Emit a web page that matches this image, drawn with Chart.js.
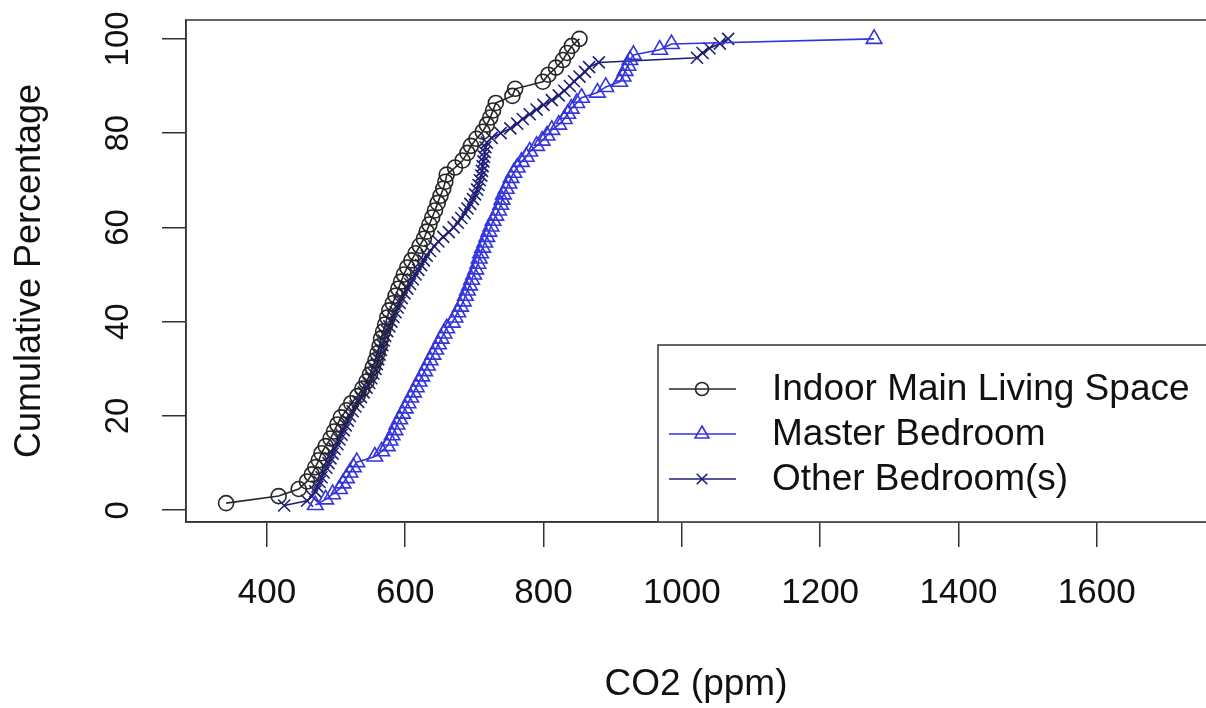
<!DOCTYPE html>
<html lang="en">
<head>
<meta charset="utf-8">
<script src="https://cdn.jsdelivr.net/npm/chart.js@4.4.1/dist/chart.umd.min.js"></script>
<style>
  html, body { margin: 0; padding: 0; background: #fff; overflow: hidden; }
  #cdf { display: block; }
</style>
</head>
<body>
<canvas id="cdf" width="1206" height="708"></canvas>

<script>
// axis ticks
const xTicks = [400, 600, 800, 1000, 1200, 1400, 1600];
const yTicks = [0, 20, 40, 60, 80, 100];

const seriesNames = ['Indoor Main Living Space', 'Master Bedroom', 'Other Bedroom(s)'];

// Indoor Main Living Space: CO2 (ppm) and cumulative %
const indoorPpm = [341, 417, 446, 458, 465, 470, 475, 479, 485, 492, 497, 502, 507, 515, 522, 531,
  538, 544, 549, 553, 557, 560, 563, 565, 568, 571, 574, 577, 582, 586, 590, 594, 598, 603, 609,
  615, 621, 627, 631, 635, 639, 643, 647, 651, 655, 658, 660, 672, 683, 690, 695, 703, 712, 718,
  723, 727, 731, 755, 759, 799, 807, 818, 828, 834, 841, 852];
const indoorPct = [1.5, 3.0, 4.5, 6.1, 7.6, 9.1, 10.6, 12.1, 13.6, 15.2, 16.7, 18.2, 19.7, 21.2,
  22.7, 24.2, 25.8, 27.3, 28.8, 30.3, 31.8, 33.3, 34.8, 36.4, 37.9, 39.4, 40.9, 42.4, 43.9, 45.5,
  47.0, 48.5, 50.0, 51.5, 53.0, 54.5, 56.1, 57.6, 59.1, 60.6, 62.1, 63.6, 65.2, 66.7, 68.2, 69.7,
  71.2, 72.7, 74.2, 75.8, 77.3, 78.8, 80.3, 81.8, 83.3, 84.8, 86.4, 87.9, 89.4, 90.9, 92.4, 93.9,
  95.5, 97.0, 98.5, 100.0];

// Master Bedroom
const masterPpm = [470, 485, 495, 505, 510, 515, 520, 525, 530, 556, 566, 574, 578, 581, 585, 588,
  592, 596, 600, 604, 608, 612, 616, 620, 624, 628, 632, 636, 640, 644, 648, 652, 656, 660, 668,
  672, 676, 680, 684, 687, 690, 693, 696, 699, 702, 705, 707, 709, 712, 715, 718, 721, 724, 727,
  731, 735, 738, 740, 742, 746, 750, 753, 757, 762, 768, 775, 780, 790, 798, 805, 812, 822, 830,
  835, 840, 848, 855, 878, 890, 910, 915, 918, 922, 925, 930, 968, 985, 1278];
const masterPct = [1.1, 2.3, 3.4, 4.5, 5.7, 6.8, 8.0, 9.1, 10.2, 11.4, 12.5, 13.6, 14.8, 15.9,
  17.0, 18.2, 19.3, 20.5, 21.6, 22.7, 23.9, 25.0, 26.1, 27.3, 28.4, 29.5, 30.7, 31.8, 33.0, 34.1,
  35.2, 36.4, 37.5, 38.6, 39.8, 40.9, 42.0, 43.2, 44.3, 45.5, 46.6, 47.7, 48.9, 50.0, 51.1, 52.3,
  53.4, 54.5, 55.7, 56.8, 58.0, 59.1, 60.2, 61.4, 62.5, 63.6, 64.8, 65.9, 67.0, 68.2, 69.3, 70.5,
  71.6, 72.7, 73.9, 75.0, 76.1, 77.3, 78.4, 79.5, 80.7, 81.8, 83.0, 84.1, 85.2, 86.4, 87.5, 88.6,
  89.8, 90.9, 92.0, 93.2, 94.3, 95.5, 96.6, 97.7, 98.9, 100.0];

// Other Bedroom(s)
const otherPpm = [425, 458, 465, 470, 473, 476, 479, 482, 486, 489, 492, 495, 498, 502, 505, 508,
  511, 514, 517, 520, 524, 528, 532, 536, 540, 544, 548, 551, 554, 557, 559, 561, 563, 565, 567,
  569, 571, 574, 577, 580, 583, 586, 589, 592, 595, 599, 603, 607, 611, 615, 619, 623, 627, 631,
  636, 642, 648, 655, 663, 670, 676, 681, 686, 690, 694, 698, 701, 704, 706, 708, 710, 711, 712,
  713, 714, 715, 716, 718, 725, 738, 752, 762, 770, 780, 790, 800, 812, 822, 830, 838, 844, 852,
  860, 866, 880, 1022, 1030, 1040, 1055, 1067];
const otherPct = [1, 2, 3, 4, 5, 6, 7, 8, 9, 10, 11, 12, 13, 14, 15, 16, 17, 18, 19, 20, 21, 22,
  23, 24, 25, 26, 27, 28, 29, 30, 31, 32, 33, 34, 35, 36, 37, 38, 39, 40, 41, 42, 43, 44, 45, 46,
  47, 48, 49, 50, 51, 52, 53, 54, 55, 56, 57, 58, 59, 60, 61, 62, 63, 64, 65, 66, 67, 68, 69, 70,
  71, 72, 73, 74, 75, 76, 77, 78, 79, 80, 81, 82, 83, 84, 85, 86, 87, 88, 89, 90, 91, 92, 93, 94,
  95, 96, 97, 98, 99, 100];

const FONT = '"Liberation Sans", Arial, Helvetica, sans-serif';
const INK = '#333';

function pairs(xs, ys) {
    return xs.map((v, i) => ({ x: v, y: ys[i] }));
}

// box round the plot, y labels turned like R draws them
const rFrame = {
    id: 'rFrame',
    afterDraw(chart) {
        const { ctx, chartArea: a, scales } = chart;
        ctx.save();
        ctx.strokeStyle = INK;
        ctx.lineWidth = 1.5;
        ctx.beginPath();
        ctx.moveTo(a.right + 4, a.top);
        ctx.lineTo(a.left, a.top);
        ctx.lineTo(a.left, a.bottom);
        ctx.lineTo(a.right + 4, a.bottom);
        ctx.stroke();

        ctx.fillStyle = '#111';
        ctx.font = '33px ' + FONT;
        ctx.textAlign = 'center';
        ctx.textBaseline = 'middle';
        scales.y.ticks.forEach((t) => {
            const py = scales.y.getPixelForValue(t.value);
            ctx.save();
            ctx.translate(119, py);
            ctx.rotate(-Math.PI / 2);
            ctx.fillText(String(t.value), 0, 0);
            ctx.restore();
        });
        ctx.restore();
    }
};

// legend box in the bottom right corner
const rLegend = {
    id: 'rLegend',
    afterDatasetsDraw(chart) {
        const { ctx, chartArea: a } = chart;
        const left = 658, top = 345;
        ctx.save();
        ctx.fillStyle = '#fff';
        ctx.fillRect(left, top, a.right - left + 6, a.bottom - top);
        ctx.strokeStyle = INK;
        ctx.lineWidth = 1.5;
        ctx.beginPath();
        ctx.moveTo(left, a.bottom);
        ctx.lineTo(left, top);
        ctx.lineTo(a.right + 6, top);
        ctx.stroke();

        const rows = [389, 434, 479];
        chart.data.datasets.forEach((ds, i) => {
            const y = rows[i];
            ctx.strokeStyle = ds.borderColor;
            ctx.lineWidth = 1.5;
            ctx.beginPath();
            ctx.moveTo(669, y);
            ctx.lineTo(736, y);
            ctx.stroke();
            ctx.strokeStyle = ds.pointBorderColor;
            ctx.fillStyle = 'rgba(0,0,0,0)';
            ctx.lineWidth = ds.pointBorderWidth;
            Chart.helpers.drawPoint(ctx, {
                pointStyle: ds.pointStyle, radius: ds.pointRadius - 1,
                rotation: 0, borderWidth: ds.pointBorderWidth
            }, 702, y);
            ctx.fillStyle = '#111';
            ctx.font = '37px ' + FONT;
            ctx.textAlign = 'left';
            ctx.textBaseline = 'middle';
            ctx.fillText(ds.label, 772, y + 1);
        });
        ctx.restore();
    }
};

const ctx = document.getElementById('cdf').getContext('2d');
const chart = new Chart(ctx, {
    type: 'scatter',
    data: {
        datasets: [
            {
                label: seriesNames[0],
                data: pairs(indoorPpm, indoorPct),
                showLine: true,
                borderColor: '#262626',
                borderWidth: 1.6,
                pointStyle: 'circle',
                pointRadius: 7.5,
                pointBorderColor: '#262626',
                pointBackgroundColor: 'rgba(0,0,0,0)',
                pointBorderWidth: 1.6,
                tension: 0,
            },
            {
                label: seriesNames[1],
                data: pairs(masterPpm, masterPct),
                showLine: true,
                borderColor: '#3434dc',
                borderWidth: 1.6,
                pointStyle: 'triangle',
                pointRadius: 9,
                pointBorderColor: '#3434dc',
                pointBackgroundColor: 'rgba(0,0,0,0)',
                pointBorderWidth: 1.6,
                tension: 0,
            },
            {
                label: seriesNames[2],
                data: pairs(otherPpm, otherPct),
                showLine: true,
                borderColor: '#1e1e78',
                borderWidth: 1.6,
                pointStyle: 'crossRot',
                pointRadius: 8.5,
                pointBorderColor: '#1e1e78',
                pointBackgroundColor: 'rgba(0,0,0,0)',
                pointBorderWidth: 1.6,
                tension: 0,
            },
        ]
    },
    options: {
        responsive: false,
        animation: false,
        // no auto padding for the point size: the plot box runs to the page edge
        layout: { autoPadding: false, padding: { top: 20, right: 0, bottom: 0, left: 0 } },
        plugins: {
            legend: { display: false },
            tooltip: { enabled: false },
        },
        scales: {
            x: {
                type: 'linear',
                position: 'bottom',
                min: 283,
                max: 1758,
                afterBuildTicks: (s) => { s.ticks = xTicks.map((v) => ({ value: v })); },
                afterFit: (s) => { s.height = 186; s.paddingLeft = 0; s.paddingRight = 0; },
                grid: { drawOnChartArea: false, drawTicks: true, tickLength: 25, color: INK, lineWidth: 1.5 },
                border: { display: true, color: INK, width: 1.5 },
                ticks: {
                    color: '#111', padding: 25, maxRotation: 0,
                    font: { family: FONT, size: 35 },
                    callback: (v) => String(v),
                },
                title: {
                    display: true, text: 'CO2 (ppm)', color: '#111',
                    font: { family: FONT, size: 37 }, padding: { top: 0, bottom: 1 }
                },
            },
            y: {
                type: 'linear',
                position: 'left',
                min: -2.5,
                max: 104,
                afterBuildTicks: (s) => { s.ticks = yTicks.map((v) => ({ value: v })); },
                afterFit: (s) => { s.width = 186; s.paddingTop = 0; s.paddingBottom = 0; },
                grid: { drawOnChartArea: false, drawTicks: true, tickLength: 24, color: INK, lineWidth: 1.5 },
                border: { display: true, color: INK, width: 1.5 },
                ticks: { display: false },
                title: {
                    display: true, text: 'Cumulative Percentage', color: '#111',
                    font: { family: FONT, size: 36 }, padding: { top: 8, bottom: 0 }
                },
            },
        },
    },
    plugins: [rLegend, rFrame],
});
</script>
</body>
</html>
